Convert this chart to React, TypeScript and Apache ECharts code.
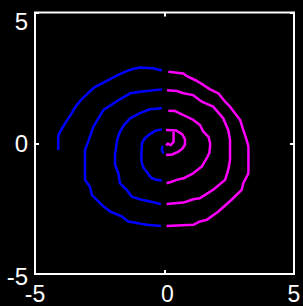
import React, { useEffect, useRef } from 'react';
import * as echarts from 'echarts';

// Tick values shown on both axes
const tickValues = [-5, 0, 5];

// Spiral pieces, in path order from the centre outward
const hookMagenta = [[0.35, 0.43], [0.35, 0.05], [0.23, -0.08], [0.135, -0.01], [0.06, -0.08]];
const centerBlue = [[-0.08, -0.1], [-0.1, -0.26], [-0.04, -0.39]];
const loop1Magenta = [[0.06, -0.45], [0.29, -0.43], [0.52, -0.33], [0.68, -0.22], [0.79, -0.06], [0.79, 0.16], [0.68, 0.35], [0.44, 0.49], [0.06, 0.51]];
const loop1Blue = [[-0.1, 0.53], [-0.33, 0.49], [-0.56, 0.35], [-0.75, 0.2], [-0.87, 0.01], [-0.89, -0.33], [-0.89, -0.71], [-0.81, -0.94], [-0.68, -1.1], [-0.52, -1.32], [-0.33, -1.4], [-0.1, -1.42]];
const loop2Magenta = [[0.08, -1.53], [0.28, -1.47], [0.47, -1.4], [0.73, -1.34], [1.11, -1.15], [1.44, -0.89], [1.63, -0.57], [1.73, -0.38], [1.76, -0.13], [1.76, 0.01], [1.7, 0.24], [1.5, 0.44], [1.37, 0.7], [1.11, 0.89], [0.73, 1.08], [0.41, 1.23], [0.15, 1.24]];
const loop2Blue = [[-0.1, 1.34], [-0.56, 1.3], [-0.95, 1.15], [-1.33, 0.95], [-1.56, 0.7], [-1.72, 0.44], [-1.83, 0.13], [-1.91, -0.45], [-1.91, -0.83], [-1.78, -1.15], [-1.72, -1.53], [-1.46, -1.78], [-1.27, -2.04], [-0.88, -2.16], [-0.56, -2.23], [-0.14, -2.32]];
const loop3Magenta = [[0.08, -2.32], [0.73, -2.27], [1.11, -2.14], [1.37, -2.1], [1.88, -1.78], [2.34, -1.4], [2.46, -1.02], [2.53, -0.64], [2.53, 0.13], [2.46, 0.51], [2.27, 0.95], [1.88, 1.4], [1.44, 1.59], [1.11, 1.84], [0.73, 1.91], [0.47, 2.0], [0.1, 2.03]];
const loop3Blue = [[-0.1, 2.06], [-0.95, 1.97], [-1.33, 1.91], [-1.72, 1.68], [-2.36, 1.27], [-2.75, 0.63], [-2.92, 0.13], [-3.07, -0.26], [-3.07, -1.4], [-2.88, -1.66], [-2.81, -1.97], [-2.42, -2.36], [-2.1, -2.61], [-1.65, -2.8], [-1.4, -2.99], [-0.69, -3.12], [-0.14, -3.16]];
const loop4Magenta = [[0.08, -3.16], [1.11, -3.12], [1.37, -2.99], [1.63, -2.93], [2.08, -2.61], [2.59, -2.16], [2.98, -1.78], [3.04, -1.53], [3.24, -1.15], [3.24, -0.13], [3.17, 0.13], [3.04, 0.51], [2.92, 0.89], [2.72, 1.15], [2.53, 1.4], [2.34, 1.59], [2.08, 1.91], [1.76, 2.06], [1.5, 2.23], [1.24, 2.39], [0.86, 2.57], [0.73, 2.67], [0.15, 2.73]];
const loop4Blue = [[-0.1, 2.78], [-0.44, 2.87], [-0.95, 2.9], [-1.22, 2.84], [-1.46, 2.76], [-1.72, 2.64], [-2.03, 2.49], [-2.3, 2.35], [-2.68, 2.16], [-2.95, 1.92], [-3.2, 1.68], [-3.42, 1.42], [-3.58, 1.15], [-3.84, 0.76], [-4.03, 0.44], [-4.1, 0.28], [-4.1, -0.26]];

const BLUE = '#0000ff';
const MAGENTA = '#ff00ff';

const pieces: [number[][], string][] = [
  [hookMagenta, MAGENTA],
  [centerBlue, BLUE],
  [loop1Magenta, MAGENTA],
  [loop1Blue, BLUE],
  [loop2Magenta, MAGENTA],
  [loop2Blue, BLUE],
  [loop3Magenta, MAGENTA],
  [loop3Blue, BLUE],
  [loop4Magenta, MAGENTA],
  [loop4Blue, BLUE],
];

const FONT = "'Liberation Sans', Arial, sans-serif";

export default function App() {
  const ref = useRef<HTMLDivElement>(null);
  useEffect(() => {
    if (!ref.current) return;
    const chart = echarts.init(ref.current, null, { renderer: 'svg' });
    const tick = { show: true, inside: true, length: 4, lineStyle: { color: '#fff', width: 2 } };
    const labelBase = { color: '#fff', fontSize: 24, fontFamily: FONT, lineHeight: 20 };
    const xLabelBase = { color: '#fff', fontSize: 23, fontFamily: FONT, lineHeight: 18 };
    const axisCommon = {
      type: 'value',
      min: tickValues[0],
      max: tickValues[tickValues.length - 1],
      interval: 5,
      axisLine: { show: false, onZero: false },
      axisTick: tick,
      splitLine: { show: false },
    };
    chart.setOption({
      animation: false,
      backgroundColor: '#000',
      grid: {
        left: 35, right: 9, top: 12.5, bottom: 32,
        show: true, borderColor: '#fff', borderWidth: 2, backgroundColor: '#000',
        containLabel: false, outerBoundsMode: 'none',
      },
      xAxis: [
        {
          ...axisCommon, position: 'bottom',
          axisLabel: {
            ...xLabelBase, margin: 11,
            formatter: (v: number) => (v === 0 ? '{zero|0}' : String(v)),
            rich: { zero: { ...xLabelBase, padding: [0, 0, 0, 6] } },
          },
        },
        { ...axisCommon, position: 'top', axisLabel: { show: false } },
      ],
      yAxis: [
        {
          ...axisCommon, position: 'left',
          axisLabel: {
            ...labelBase, margin: 7,
            formatter: (v: number) => (v === 5 ? '{top|5}' : v === -5 ? '{bot|-5}' : String(v)),
            rich: {
              top: { ...labelBase, padding: [18, 0, 0, 0] },
              bot: { ...labelBase, padding: [4, 0, 0, 0] },
            },
          },
        },
        { ...axisCommon, position: 'right', axisLabel: { show: false } },
      ],
      series: pieces.map(([data, color]) => ({
        type: 'line',
        xAxisIndex: 0,
        yAxisIndex: 0,
        data,
        showSymbol: false,
        symbol: 'none',
        lineStyle: { color, width: 2.5 },
        silent: true,
      })),
    });
    return () => chart.dispose();
  }, []);
  return (
    <div
      ref={ref}
      style={{ position: 'fixed', left: 0, top: 0, width: 303, height: 306, background: '#000' }}
    />
  );
}
